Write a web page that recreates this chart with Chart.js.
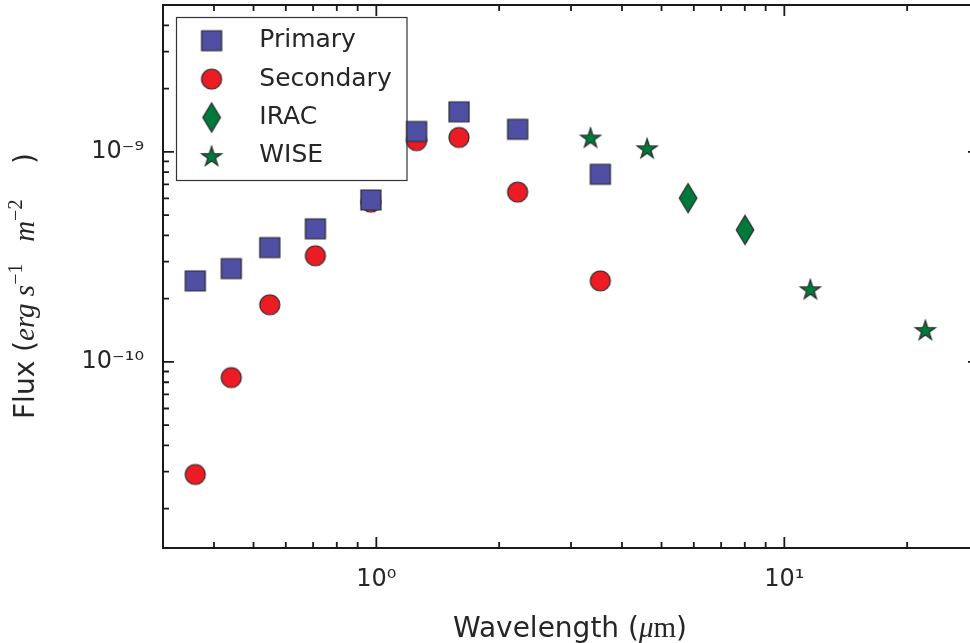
<!DOCTYPE html>
<html><head><meta charset="utf-8">
<script src="https://cdn.jsdelivr.net/npm/chart.js@4.4.1/dist/chart.umd.min.js"></script>
<style>html,body{margin:0;padding:0;overflow:hidden;background:#fff}#wrap{width:990px;height:643px}</style>
</head><body><div id="wrap"><canvas id="c" width="990" height="643"></canvas></div>
<script>
// ---- data ----
const bandWavelengths = [0.360, 0.441, 0.548, 0.709, 0.970, 1.255, 1.595, 2.220, 3.540];
const primaryFlux   = [2.43e-10, 2.78e-10, 3.50e-10, 4.30e-10, 5.90e-10, 1.25e-9, 1.55e-9, 1.28e-9, 7.82e-10];
const secondaryFlux = [2.91e-11, 8.42e-11, 1.87e-10, 3.20e-10, 5.76e-10, 1.13e-9, 1.17e-9, 6.43e-10, 2.43e-10];
const iracWavelengths = [5.81, 8.01];
const iracFlux = [6.02e-10, 4.25e-10];
const wiseWavelengths = [3.35, 4.61, 11.58, 22.16];
const wiseFlux = [1.17e-9, 1.04e-9, 2.22e-10, 1.42e-10];
const seriesNames = ['Primary', 'Secondary', 'IRAC', 'WISE'];
const xTickValues = [1, 10];
const xTickLabels = ['10⁰', '10¹'];
const yTickValues = [1e-10, 1e-9];
const yTickLabels = ['10⁻¹⁰', '10⁻⁹'];
const xRange = [0.3, 30];
const yRange = [1.3e-11, 5e-9];

const TEXT = '#262626';
const SANS = '"DejaVu Sans"';
const SERIF = '"Liberation Serif"';

function makeMarker(w, h, path, fill) {
  const c = document.createElement('canvas');
  c.width = Math.ceil(w) + 4; c.height = Math.ceil(h) + 4;
  const g = c.getContext('2d');
  g.translate(c.width / 2, c.height / 2);
  g.beginPath(); path(g); g.closePath();
  g.fillStyle = fill; g.fill();
  g.lineWidth = 1.2; g.strokeStyle = '#2a2a2a'; g.stroke();
  return c;
}
const mSquare = makeMarker(20, 20, g => g.rect(-10, -10, 20, 20), '#4f4fa3');
const mCircle = makeMarker(20, 20, g => g.arc(0, 0, 10, 0, Math.PI * 2), '#ed1c24');
const mDiamond = makeMarker(18, 29, g => { g.moveTo(0, -14.5); g.lineTo(8.8, 0); g.lineTo(0, 14.5); g.lineTo(-8.8, 0); }, '#00793a');
const mStar = makeMarker(22, 22, g => {
  const R = 10.5, r = R * 0.381966;
  for (let i = 0; i < 10; i++) {
    const a = -Math.PI / 2 + i * Math.PI / 5;
    const rr = i % 2 ? r : R;
    const px = Math.cos(a) * rr, py = Math.sin(a) * rr + 1;
    i ? g.lineTo(px, py) : g.moveTo(px, py);
  }
}, '#00793a');

function pts(xs, ys) { return xs.map((x, i) => ({ x: x, y: ys[i] })); }

function drawSegments(ctx, segs, x0, baseY, centered) {
  let total = 0;
  segs.forEach(s => { ctx.font = s.f; s.w = ctx.measureText(s.t).width; total += s.w; });
  let x = centered ? x0 - total / 2 : x0;
  ctx.textAlign = 'left'; ctx.textBaseline = 'alphabetic'; ctx.fillStyle = TEXT;
  segs.forEach(s => { ctx.font = s.f; ctx.fillText(s.t, x, baseY - (s.dy || 0)); x += s.w; });
}

const decor = {
  id: 'decor',
  beforeDraw(chart) {
    const ctx = chart.ctx;
    ctx.save();
    ctx.strokeStyle = '#333'; ctx.lineWidth = 1.2;
    ctx.strokeRect(176.5, 17.5, 230.5, 163);
    ctx.restore();
  },
  afterDraw(chart) {
    const ctx = chart.ctx, a = chart.chartArea;
    const xs = chart.scales.x, ys = chart.scales.y;
    ctx.save();
    ctx.strokeStyle = '#1a1a1a';
    ctx.lineWidth = 2;
    ctx.strokeRect(a.left, a.top, a.right - a.left, a.bottom - a.top);
    ctx.lineWidth = 1.8;
    function logTicks(min, max, cb) {
      for (let k = Math.floor(Math.log10(min)); k <= Math.ceil(Math.log10(max)); k++) {
        for (let m = 1; m <= 9; m++) {
          const v = m * Math.pow(10, k);
          if (v >= min * 1.0001 && v <= max * 0.9999) cb(v, m === 1);
        }
      }
    }
    ctx.beginPath();
    logTicks(xRange[0], xRange[1], (v, major) => {
      const p = xs.getPixelForValue(v), L = major ? 11 : 6;
      ctx.moveTo(p, a.bottom); ctx.lineTo(p, a.bottom - L);
      ctx.moveTo(p, a.top); ctx.lineTo(p, a.top + L);
    });
    logTicks(yRange[0], yRange[1], (v, major) => {
      const p = ys.getPixelForValue(v), L = major ? 11 : 6;
      ctx.moveTo(a.left, p); ctx.lineTo(a.left + L, p);
      ctx.moveTo(a.right, p); ctx.lineTo(a.right - L, p);
    });
    ctx.stroke();
    // axis titles
    drawSegments(ctx, [
      { t: 'Wavelength (', f: '28px ' + SANS },
      { t: 'μ', f: 'italic 29px ' + SERIF },
      { t: 'm', f: '29px ' + SERIF },
      { t: ')', f: '28px ' + SANS }
    ], 570, 637, true);
    ctx.translate(33.5, 419);
    ctx.rotate(-Math.PI / 2);
    drawSegments(ctx, [
      { t: 'Flux (', f: '28px ' + SANS },
      { t: 'erg', f: 'italic 29px ' + SERIF },
      { t: ' s', f: 'italic 29px ' + SERIF },
      { t: '−1', f: '20px ' + SERIF, dy: 12 },
      { t: '   m', f: 'italic 29px ' + SERIF },
      { t: '−2', f: '20px ' + SERIF, dy: 12 },
      { t: '    )', f: '28px ' + SANS }
    ], 0, 0, false);
    ctx.restore();
  }
};

new Chart(document.getElementById('c'), {
  type: 'scatter',
  data: {
    datasets: [
      { label: seriesNames[0], data: pts(bandWavelengths, primaryFlux), pointStyle: mSquare, pointRadius: 10 },
      { label: seriesNames[1], data: pts(bandWavelengths, secondaryFlux), pointStyle: mCircle, pointRadius: 10 },
      { label: seriesNames[2], data: pts(iracWavelengths, iracFlux), pointStyle: mDiamond, pointRadius: 10 },
      { label: seriesNames[3], data: pts(wiseWavelengths, wiseFlux), pointStyle: mStar, pointRadius: 10 }
    ]
  },
  options: {
    responsive: false, animation: false, devicePixelRatio: 1, events: [],
    layout: { autoPadding: false, padding: { left: 0, right: 11, top: 5, bottom: 0 } },
    scales: {
      x: {
        type: 'logarithmic', position: 'bottom', min: xRange[0], max: xRange[1],
        grid: { display: false, drawTicks: false }, border: { display: false },
        afterBuildTicks: s => { s.ticks = xTickValues.map(v => ({ value: v })); },
        afterFit: s => { s.height = 95; s.paddingLeft = 0; s.paddingRight = 0; },
        ticks: { callback: (v, i) => xTickLabels[i], autoSkip: false, maxRotation: 0, padding: 17,
                 font: { family: 'DejaVu Sans', size: 24 }, color: TEXT }
      },
      y: {
        type: 'logarithmic', position: 'left', min: yRange[0], max: yRange[1],
        grid: { display: false, drawTicks: false }, border: { display: false },
        afterBuildTicks: s => { s.ticks = yTickValues.map(v => ({ value: v })); },
        afterFit: s => { s.width = 163; s.paddingTop = 0; s.paddingBottom = 0; },
        ticks: { callback: (v, i) => yTickLabels[i], autoSkip: false, padding: 19,
                 font: { family: 'DejaVu Sans', size: 24 }, color: TEXT }
      }
    },
    plugins: {
      tooltip: { enabled: false },
      legend: {
        position: 'chartArea', align: 'start',
        title: { display: true, text: '', padding: 0, font: { size: 14.8, lineHeight: 1 } },
        labels: { usePointStyle: true, pointStyleWidth: 70.4, boxHeight: 25, padding: 13.4,
                  font: { family: 'DejaVu Sans', size: 25 }, color: TEXT }
      }
    }
  },
  plugins: [decor]
});
</script></body></html>
